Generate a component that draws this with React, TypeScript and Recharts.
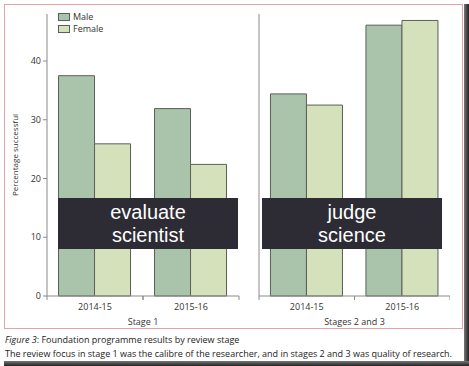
import React from "react";
import { BarChart, Bar, XAxis, YAxis } from "recharts";

const years = ["2014-15", "2015-16"];
const stage1Male = [37.5, 31.9];
const stage1Female = [25.9, 22.4];
const stage23Male = [34.4, 46.1];
const stage23Female = [32.5, 46.9];
const yTicks = [0, 10, 20, 30, 40];

const MALE = "#a9c4ab";
const FEMALE = "#d5e1bb";
const EDGE = "#5a5f5a";
const AXIS = "#8a8a8a";
const FONT = "'Open Sans', 'Noto Sans', sans-serif";

const stage1 = years.map((y, i) => ({ year: y, Male: stage1Male[i], Female: stage1Female[i] }));
const stage23 = years.map((y, i) => ({ year: y, Male: stage23Male[i], Female: stage23Female[i] }));

// category label plus tick marks at the band edges
function EdgeTick(props: any) {
  const { x, y, payload } = props;
  const half = payload.offset || 0;
  return (
    <g>
      <line x1={x - half} x2={x - half} y1={y - 8} y2={y - 4} stroke={AXIS} />
      <line x1={x + half} x2={x + half} y1={y - 8} y2={y - 4} stroke={AXIS} />
      <text x={x} y={y + 6} textAnchor="middle" fontSize={9} fill="#333" fontFamily={FONT}>
        {payload.value}
      </text>
    </g>
  );
}

function LegendBox() {
  const item = (fill: string, label: string, top: number) => (
    <div style={{ position: "absolute", left: 58, top, display: "flex", alignItems: "center" }}>
      <div style={{ width: 10, height: 6, background: fill, border: `1px solid ${EDGE}` }} />
      <span style={{ fontSize: 9, marginLeft: 3, color: "#333", fontFamily: FONT }}>{label}</span>
    </div>
  );
  return (
    <>
      {item(MALE, "Male", 10)}
      {item(FEMALE, "Female", 22)}
    </>
  );
}

function Panel({ data, left, showLabels, stage }: any) {
  return (
    <div style={{ position: "absolute", left, top: 0 }}>
      <BarChart
        width={250}
        height={330}
        data={data}
        margin={{ top: 14, right: showLabels ? 11 : 0, left: 0, bottom: 0 }}
        barCategoryGap="12%"
        barGap={0}
      >
        <XAxis
          dataKey="year"
          height={34}
          tickLine={false}
          axisLine={{ stroke: AXIS }}
          tick={<EdgeTick />}
          label={{ value: stage, position: "insideBottom", offset: 5, fontSize: 9, fill: "#333", fontFamily: FONT }}
        />
        <YAxis
          domain={[0, 48]}
          ticks={yTicks}
          width={showLabels ? 47 : 59}
          tickSize={4}
          tickLine={{ stroke: AXIS }}
          axisLine={{ stroke: AXIS }}
          tick={showLabels ? { fontSize: 9, fill: "#333", fontFamily: FONT } : false}
          label={
            showLabels
              ? {
                  value: "Percentage successful",
                  angle: -90,
                  position: "insideLeft",
                  offset: 15,
                  fontSize: 8,
                  fill: "#333",
                  fontFamily: FONT,
                  style: { textAnchor: "middle" },
                }
              : undefined
          }
        />
        <Bar dataKey="Male" fill={MALE} stroke={EDGE} strokeWidth={1} isAnimationActive={false} />
        <Bar dataKey="Female" fill={FEMALE} stroke={EDGE} strokeWidth={1} isAnimationActive={false} />
      </BarChart>
    </div>
  );
}

function Overlay({ left, lines }: { left: number; lines: string[] }) {
  return (
    <div
      style={{
        position: "absolute",
        left,
        top: 198,
        width: 180,
        height: 51,
        background: "#2d2c34",
        color: "#fff",
        fontFamily: "'Liberation Sans', Arial, sans-serif",
        fontSize: 20,
        lineHeight: "23px",
        textAlign: "center",
        display: "flex",
        flexDirection: "column",
        justifyContent: "center",
      }}
    >
      {lines.map((l) => (
        <div key={l}>{l}</div>
      ))}
    </div>
  );
}

export default function App() {
  return (
    <div style={{ position: "absolute", left: 0, top: 0, width: 469, height: 366, background: "#fff", overflow: "hidden" }}>
      <div style={{ position: "absolute", left: 4, top: 4, width: 457, height: 323, border: "1px solid #e2a3ab" }} />
      <Panel data={stage1} left={0} showLabels stage="Stage 1" />
      <Panel data={stage23} left={200} showLabels={false} stage="Stages 2 and 3" />
      <LegendBox />
      <Overlay left={58} lines={["evaluate", "scientist"]} />
      <Overlay left={262} lines={["judge", "science"]} />
      <div style={{ position: "absolute", left: 5, top: 333, fontFamily: FONT, fontSize: 9, color: "#222", lineHeight: "14px", whiteSpace: "nowrap" }}>
        <div>
          <span style={{ fontStyle: "italic" }}>Figure 3</span>: Foundation programme results by review stage
        </div>
        <div>The review focus in stage 1 was the calibre of the researcher, and in stages 2 and 3 was quality of research.</div>
      </div>
      <div style={{ position: "absolute", left: 464, top: 4, width: 5, height: 362, background: "linear-gradient(to right, #777, #222)" }} />
      <div style={{ position: "absolute", left: 4, top: 361, width: 465, height: 5, background: "linear-gradient(to bottom, #777, #222)" }} />
    </div>
  );
}
